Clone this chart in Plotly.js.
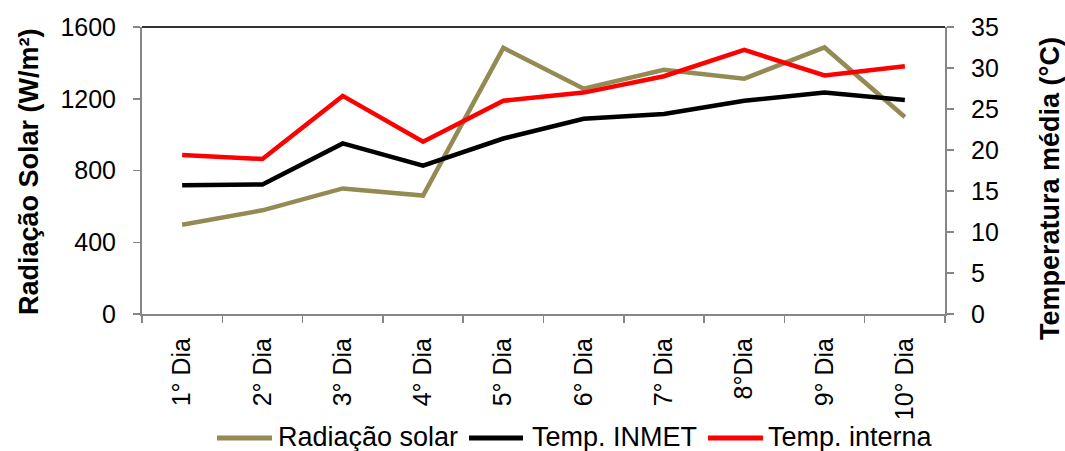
<!DOCTYPE html>
<html>
<head>
<meta charset="utf-8">
<script src="https://cdn.plot.ly/plotly-3.0.1.min.js"></script>
<style>html,body{margin:0;padding:0;background:#fff;}#chart{width:1065px;height:451px;}</style>
</head>
<body>
<div id="chart"></div>
<script>
const categories = ["1° Dia","2° Dia","3° Dia","4° Dia","5° Dia","6° Dia","7° Dia","8°Dia","9° Dia","10° Dia"];
const radiacaoSolar = [498, 578, 700, 660, 1484, 1256, 1362, 1312, 1486, 1098];
const tempInmet = [15.7, 15.8, 20.8, 18.1, 21.4, 23.8, 24.4, 26.0, 27.0, 26.1];
const tempInterna = [19.4, 18.9, 26.6, 21.0, 26.0, 27.0, 29.0, 32.2, 29.1, 30.2];
const seriesNames = ["Radiação solar", "Temp. INMET", "Temp. interna"];
const seriesColors = ["#948A54", "#000000", "#FF0000"];

const fontFam = "Liberation Sans, Arial, sans-serif";
const W = 1065, H = 451;
const M = {l: 142, r: 120, t: 27, b: 137};
const plotW = W - M.l - M.r, plotH = H - M.t - M.b;
const px2x = p => (p - M.l) / plotW;
const px2y = p => (H - M.b - p) / plotH;

const traces = [
  {x: categories, y: radiacaoSolar, name: seriesNames[0], type: "scatter", mode: "lines",
   line: {color: seriesColors[0], width: 4.5}, yaxis: "y"},
  {x: categories, y: tempInmet, name: seriesNames[1], type: "scatter", mode: "lines",
   line: {color: seriesColors[1], width: 4.5}, yaxis: "y2"},
  {x: categories, y: tempInterna, name: seriesNames[2], type: "scatter", mode: "lines",
   line: {color: seriesColors[2], width: 4.5}, yaxis: "y2"}
];

// custom legend placement (pixels): sample start, sample end, text start
const legendItems = [[217, 272, 277], [469, 523, 531], [708, 763, 767]];
const legendY = 438;

const shapes = [{type: "line", xref: "paper", yref: "paper", x0: 0, x1: 1, y0: 1, y1: 1,
                 line: {color: "#333333", width: 2}}];
const annotations = [
  {xref: "paper", yref: "paper", x: px2x(29), y: px2y(172), xanchor: "center", yanchor: "middle",
   text: "Radiação Solar (W/m²)", textangle: -90, showarrow: false,
   font: {family: fontFam, size: 27, color: "#000", weight: "bold"}},
  {xref: "paper", yref: "paper", x: px2x(1050), y: px2y(189), xanchor: "center", yanchor: "middle",
   text: "Temperatura média (°C)", textangle: -90, showarrow: false,
   font: {family: fontFam, size: 27, color: "#000", weight: "bold"}}
];
legendItems.forEach((it, i) => {
  shapes.push({type: "line", xref: "paper", yref: "paper", x0: px2x(it[0]), x1: px2x(it[1]),
               y0: px2y(legendY), y1: px2y(legendY),
               line: {color: seriesColors[i], width: 5}});
  annotations.push({xref: "paper", yref: "paper", x: px2x(it[2]), y: px2y(legendY - 1),
                    xanchor: "left", yanchor: "middle", text: seriesNames[i], showarrow: false,
                    borderpad: 0, font: {family: fontFam, size: 27, color: "#000"}});
});

const layout = {
  width: W, height: H,
  margin: {l: M.l, r: M.r, t: M.t, b: M.b, autoexpand: false},
  paper_bgcolor: "#fff", plot_bgcolor: "#fff",
  font: {family: fontFam, size: 25, color: "#000"},
  showlegend: false,
  xaxis: {type: "category", tickangle: -90, showline: true, linecolor: "#868686", linewidth: 2,
          ticks: "outside", tickson: "boundaries", ticklen: 7, tickcolor: "#868686", tickwidth: 1.5,
          showgrid: false, zeroline: false, range: [-0.5, 9.5], automargin: false,
          ticklabelstandoff: 12,
          tickfont: {family: fontFam, size: 25, color: "#000"}},
  yaxis: {range: [0, 1600], dtick: 400, tick0: 0, showline: true, linecolor: "#868686", linewidth: 2,
          ticks: "outside", ticklen: 7, tickcolor: "#868686", tickwidth: 1.5,
          showgrid: false, zeroline: false, automargin: false, ticklabelstandoff: 12,
          tickfont: {family: fontFam, size: 25, color: "#000"}},
  yaxis2: {range: [0, 35], dtick: 5, tick0: 0, overlaying: "y", side: "right",
           showline: true, linecolor: "#868686", linewidth: 2,
           ticks: "outside", ticklen: 7, tickcolor: "#868686", tickwidth: 1.5,
           showgrid: false, zeroline: false, automargin: false, ticklabelstandoff: 12,
           tickfont: {family: fontFam, size: 25, color: "#000"}},
  shapes: shapes,
  annotations: annotations
};

Plotly.newPlot("chart", traces, layout, {displayModeBar: false, staticPlot: true});
</script>
</body>
</html>
